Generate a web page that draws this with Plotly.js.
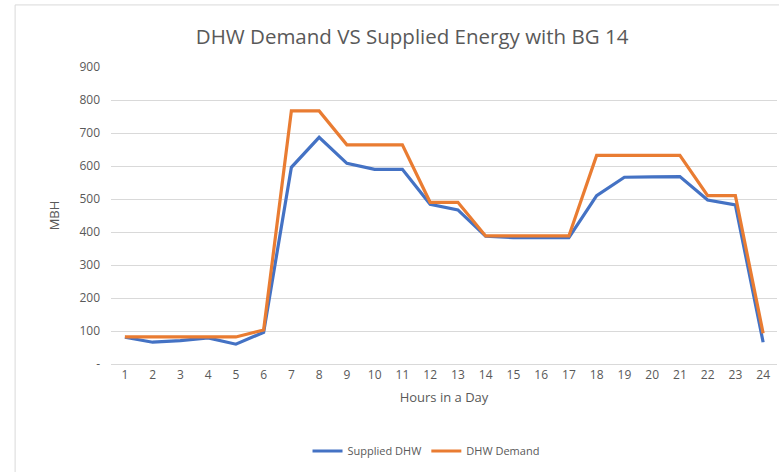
<!DOCTYPE html>
<html>
<head>
<meta charset="utf-8">
<script src="https://cdn.plot.ly/plotly-3.0.1.min.js"></script>
<style>html,body{margin:0;padding:0;background:#fff;}#chart{width:779px;height:472px;}</style>
</head>
<body>
<div id="chart"></div>
<script>
const hours = ["1","2","3","4","5","6","7","8","9","10","11","12","13","14","15","16","17","18","19","20","21","22","23","24"];
const suppliedDHW = [81,66,71,79,60,96,596,687,608,590,590,484,467,387,383,382,383,510,566,567,568,497,482,66];
const dhwDemand = [82,82,82,82,82,103,767,767,664,664,664,490,490,388,388,388,388,632,632,632,632,510,510,93];
const yTickVals = [0,100,200,300,400,500,600,700,800,900];
const yTickText = ["-","100","200","300","400","500","600","700","800","900"];

const font = "Open Sans, sans-serif";
const traces = [
  {x: hours, y: suppliedDHW, type: "scatter", mode: "lines", name: "Supplied DHW",
   line: {color: "#4472C4", width: 3.2}},
  {x: hours, y: dhwDemand, type: "scatter", mode: "lines", name: "DHW Demand",
   line: {color: "#E97C32", width: 3.2}}
];
const layout = {
  width: 779, height: 472,
  margin: {l: 111, r: 2, t: 67, b: 108},
  paper_bgcolor: "#fff", plot_bgcolor: "#fff",
  font: {family: font, color: "#595959", size: 12},
  title: {text: "DHW Demand VS Supplied Energy with BG 14", font: {family: font, size: 20.5, color: "#595959"},
          xref: "container", yref: "container", x: 0.529, xanchor: "center", y: 0.921, yanchor: "middle"},
  xaxis: {type: "category", range: [-0.5, 23.5], showgrid: false, zeroline: false, showline: true, linecolor: "#d9d9d9", linewidth: 1,
          ticks: "", tickfont: {size: 12, color: "#595959"},
          title: {text: "Hours in a Day", font: {size: 13, color: "#595959"}, standoff: 10}},
  yaxis: {range: [0, 900], tickvals: yTickVals, ticktext: yTickText, showgrid: true, gridcolor: "#d9d9d9",
          zeroline: false, showline: false, ticks: "", ticklabelstandoff: 10, tickfont: {size: 12, color: "#595959"},
          title: {text: "MBH", font: {size: 13, color: "#595959"}, standoff: 16}},
  showlegend: true,
  legend: {orientation: "h", x: 0.473, xanchor: "center", y: -0.293, yanchor: "middle",
           font: {size: 11, color: "#595959"}, itemwidth: 30, tracegroupgap: 0},
  shapes: [{type: "rect", xref: "paper", yref: "paper", x0: -0.144, x1: 1.2, y0: -0.5, y1: 1.209,
            line: {color: "#d9d9d9", width: 1}, fillcolor: "rgba(0,0,0,0)", layer: "below"}]
};
Plotly.newPlot("chart", traces, layout, {displayModeBar: false, staticPlot: true});
</script>
</body>
</html>
